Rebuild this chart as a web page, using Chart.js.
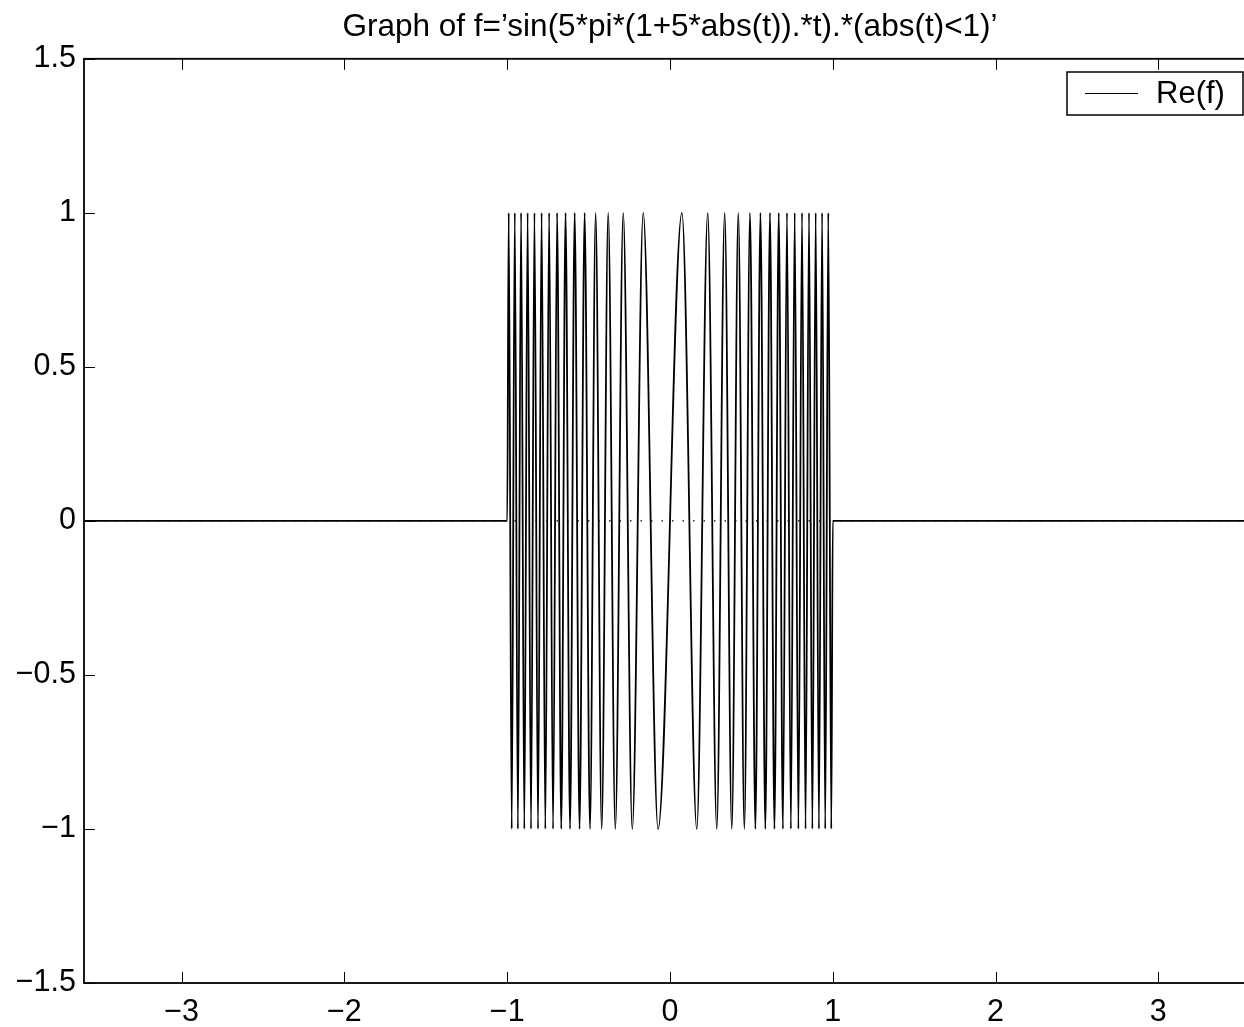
<!DOCTYPE html>
<html>
<head>
<meta charset="utf-8">
<title>Graph of f</title>
<script src="https://cdn.jsdelivr.net/npm/chart.js@4.4.1/dist/chart.umd.min.js"></script>
<style>
  html, body { margin: 0; padding: 0; background: #fff; overflow: hidden; }
  #wrap { width: 1262px; height: 1027px; }
</style>
</head>
<body>
<div id="wrap"><canvas id="chirp" width="1262" height="1027"></canvas></div>
<script>
// values: t of each peak / trough, and the level it reaches
const tVals = [-3.6, -1.0,
  -0.9909, -0.9724, -0.9536, -0.9344, -0.9149, -0.8950, -0.8747, -0.8539, -0.8327, -0.8110,
  -0.7888, -0.7660, -0.7426, -0.7185, -0.6937, -0.6681, -0.6416, -0.6141, -0.5856, -0.5557,
  -0.5245, -0.4916, -0.4568, -0.4196, -0.3796, -0.3359, -0.2873, -0.2317, -0.1646, -0.0732,
  0.0732, 0.1646, 0.2317, 0.2873, 0.3359, 0.3796, 0.4196, 0.4568, 0.4916, 0.5245,
  0.5557, 0.5856, 0.6141, 0.6416, 0.6681, 0.6937, 0.7185, 0.7426, 0.7660, 0.7888,
  0.8110, 0.8327, 0.8539, 0.8747, 0.8950, 0.9149, 0.9344, 0.9536, 0.9724, 0.9909,
  1.0, 3.6];
const reVals = [0, 0,
  1, -1, 1, -1, 1, -1, 1, -1, 1, -1,
  1, -1, 1, -1, 1, -1, 1, -1, 1, -1,
  1, -1, 1, -1, 1, -1, 1, -1, 1, -1,
  1, -1, 1, -1, 1, -1, 1, -1, 1, -1,
  1, -1, 1, -1, 1, -1, 1, -1, 1, -1,
  1, -1, 1, -1, 1, -1, 1, -1, 1, -1,
  0, 0];
// imaginary part: zero everywhere (dotted)
const imT = [-3.6, 3.6];
const imVals = [0, 0];

const xTicks = [-3, -2, -1, 0, 1, 2, 3];
const yTicks = [-1.5, -1, -0.5, 0, 0.5, 1, 1.5];
const titleText = 'Graph of f=\u2019sin(5*pi*(1+5*abs(t)).*t).*(abs(t)<1)\u2019';

(function(){
  const FONT = '"Liberation Sans", Arial, Helvetica, sans-serif';
  const minus = v => String(v).replace('-', '\u2212');

  // MATLAB style box with inward ticks
  const frame = {
    id: 'frame',
    afterDatasetsDraw(chart){
      const {ctx, chartArea: a, scales} = chart;
      ctx.save();
      ctx.strokeStyle = '#000';
      ctx.lineWidth = 1.8;
      ctx.strokeRect(a.left, a.top, a.right - a.left, a.bottom - a.top);
      ctx.lineWidth = 1;
      ctx.beginPath();
      xTicks.forEach(v => {
        const x = Math.round(scales.x.getPixelForValue(v)) + 0.5;
        ctx.moveTo(x, a.bottom); ctx.lineTo(x, a.bottom - 11);
        ctx.moveTo(x, a.top); ctx.lineTo(x, a.top + 11);
      });
      yTicks.forEach(v => {
        const y = Math.round(scales.y.getPixelForValue(v)) + 0.5;
        ctx.moveTo(a.left, y); ctx.lineTo(a.left + 11, y);
        ctx.moveTo(a.right, y); ctx.lineTo(a.right - 11, y);
      });
      ctx.stroke();

      // legend box
      const bx = 1067, by = 72, bw = 176, bh = 43;
      ctx.fillStyle = '#fff';
      ctx.fillRect(bx, by, bw, bh);
      ctx.lineWidth = 1.5;
      ctx.strokeRect(bx, by, bw, bh);
      ctx.lineWidth = 1;
      ctx.beginPath();
      ctx.moveTo(1085, by + 21.5); ctx.lineTo(1138, by + 21.5);
      ctx.stroke();
      ctx.fillStyle = '#000';
      ctx.font = '31px ' + FONT;
      ctx.textBaseline = 'middle';
      ctx.fillText(chart.data.datasets[0].label, 1156, by + 22);
      ctx.restore();
    }
  };

  new Chart(document.getElementById('chirp'), {
    type: 'line',
    data: {
      datasets: [{
        label: 'Re(f)',
        data: tVals.map((t, i) => ({x: t, y: reVals[i]})),
        borderColor: '#000',
        borderWidth: 1.8,
        pointRadius: 0,
        cubicInterpolationMode: 'monotone',
        order: 1
      }, {
        label: 'Im(f)',
        data: imT.map((t, i) => ({x: t, y: imVals[i]})),
        borderColor: '#000',
        borderWidth: 1.2,
        borderDash: [1.5, 9],
        pointRadius: 0,
        order: 2
      }]
    },
    options: {
      responsive: false,
      animation: false,
      devicePixelRatio: 1,
      layout: { padding: { left: 0, right: 6, top: 0, bottom: 0 } },
      plugins: {
        legend: { display: false },
        tooltip: { enabled: false },
        title: {
          display: true,
          text: titleText,
          fullSize: false,
          color: '#000',
          font: { family: FONT, size: 31.5, weight: 'normal' },
          padding: { top: 8, bottom: 13 }
        }
      },
      scales: {
        x: {
          type: 'linear',
          min: -3.6, max: 3.6,
          afterBuildTicks: s => { s.ticks = xTicks.map(v => ({value: v})); },
          afterFit: s => { s.height = 44; },
          grid: { display: false },
          border: { display: false },
          ticks: { color: '#000', padding: 3, maxRotation: 0, font: { family: FONT, size: 30.5 }, callback: minus }
        },
        y: {
          type: 'linear',
          min: -1.5, max: 1.5,
          afterBuildTicks: s => { s.ticks = yTicks.map(v => ({value: v})); },
          afterFit: s => { s.width = 84; },
          grid: { display: false },
          border: { display: false },
          ticks: { color: '#000', padding: 0, font: { family: FONT, size: 30.5 }, callback: minus }
        }
      }
    },
    plugins: [frame]
  });
})();
</script>
</body>
</html>
